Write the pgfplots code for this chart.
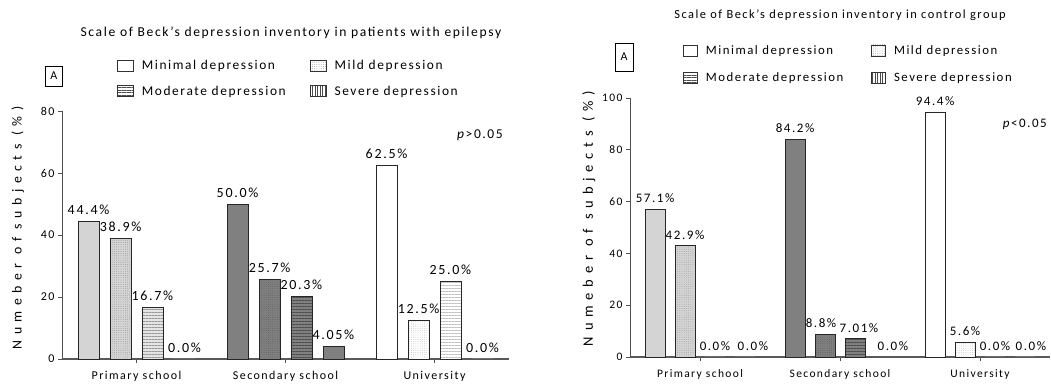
\documentclass[border=0pt]{standalone}
\usepackage{pgfplots}
\pgfplotsset{compat=1.18}
\usetikzlibrary{patterns.meta}
\usepackage{fontspec}
\setmainfont{Carlito}[LetterSpace=12]
\newfontfamily\spaced{Carlito}[LetterSpace=40]
\definecolor{lg}{HTML}{D4D4D4}
\definecolor{dg}{HTML}{808080}
\definecolor{axc}{HTML}{505050}
\pgfplotsset{
  myaxis/.style={
    scale only axis,
    xmin=-0.5, xmax=2.5, ymin=0,
    axis lines=left,
    axis line style={-},
    x axis line style={line width=1.6pt, color=black!65},
    y axis line style={line width=0.9pt, color=axc},
    tick align=outside,
    major tick length=4pt,
    xtick={0,1,2},
    xticklabels={Primary school, Secondary school, University},
    xtick style={color=axc, line width=0.8pt},
    ytick style={color=axc, line width=0.8pt},
    xticklabel style={yshift=-5pt},
    yticklabel style={/pgf/number format/assume math mode=true},
    clip=false,
    legend columns=2,
    legend style={draw=none, fill=none,
      /tikz/every odd column/.append style={column sep=6pt}},
    legend cell align=left,
  },
  bb/.style={ybar, bar shift=0pt, forget plot, draw=black!85, line width=0.8pt,
    nodes near coords, point meta=explicit symbolic,
    nodes near coords style={text=black, yshift=3pt}},
  mildL/.style={fill=lg, postaction={pattern={Dots[distance=2.2pt,radius=0.45pt]}, pattern color=black!40}},
  mildS/.style={fill=dg, postaction={pattern={Dots[distance=2.2pt,radius=0.45pt]}, pattern color=black!65}},
  mildU/.style={fill=white, postaction={pattern={Dots[distance=2.2pt,radius=0.45pt]}, pattern color=black!25}},
  modL/.style={fill=lg!60!white, postaction={pattern={Lines[angle=0,distance=3pt,line width=0.9pt]}, pattern color=black!40}},
  modS/.style={fill=dg, postaction={pattern={Lines[angle=0,distance=3pt,line width=0.9pt]}, pattern color=black!70}},
  modU/.style={fill=white, postaction={pattern={Lines[angle=0,distance=3pt,line width=0.9pt]}, pattern color=black!25}},
  sevL/.style={fill=lg, postaction={pattern={Lines[angle=90,distance=3pt,line width=0.9pt]}, pattern color=black!40}},
  sevS/.style={fill=dg, postaction={pattern={Lines[angle=90,distance=3pt,line width=0.9pt]}, pattern color=black!65}},
  sevU/.style={fill=white, postaction={pattern={Lines[angle=90,distance=3pt,line width=0.9pt]}, pattern color=black!25}},
}
\begin{document}
\begin{tikzpicture}
\useasboundingbox (0,0) rectangle (1051pt,390pt);
% ---------- left chart ----------
\begin{axis}[myaxis,
  at={(62pt,31pt)}, anchor=south west,
  width=447pt, height=248pt,
  ymax=80, ytick={0,20,40,60,80},
  ticklabel style={font=\fontsize{12}{14}\selectfont},
  ylabel={Numeber of subjects (\%)},
  ylabel style={font=\spaced\fontsize{13.8}{15}\selectfont, yshift=10pt, xshift=7pt},
  legend style={at={(axis description cs:0.116,1.222)}, anchor=north west, font=\fontsize{13.4}{15}\selectfont,
    /tikz/every even column/.append style={column sep=22pt}, row sep=11pt},
  legend image code/.code={\draw[#1, draw=black!80, line width=0.7pt] (0pt,-5.5pt) rectangle (16pt,5.5pt);},
  nodes near coords style={font=\fontsize{14}{16}\selectfont},
]
\addlegendimage{fill=white}\addlegendentry{Minimal depression}
\addlegendimage{fill=white, postaction={pattern={Dots[distance=2.2pt,radius=0.45pt]}, pattern color=black!40}}\addlegendentry{Mild depression}
\addlegendimage{fill=white, postaction={pattern={Lines[angle=0,distance=2.5pt,line width=0.8pt]}, pattern color=black!70}}\addlegendentry{Moderate depression}
\addlegendimage{fill=white, postaction={pattern={Lines[angle=90,distance=2.5pt,line width=0.8pt]}, pattern color=black!70}}\addlegendentry{Severe depression}
% Primary school
\addplot[bb, bar width=21pt, fill=lg] coordinates {(-0.322,44.4) [44.4\%]};
\addplot[bb, bar width=21pt, mildL] coordinates {(-0.107,38.9) [38.9\%]};
\addplot[bb, bar width=21pt, modL] coordinates {(0.107,16.7) [16.7\%]};
\addplot[bb, bar width=21pt, sevL, draw=none] coordinates {(0.322,0) [0.0\%]};
% Secondary school
\addplot[bb, bar width=21pt, fill=dg] coordinates {(0.678,50.0) [50.0\%]};
\addplot[bb, bar width=21pt, mildS] coordinates {(0.893,25.7) [25.7\%]};
\addplot[bb, bar width=21pt, modS] coordinates {(1.107,20.3) [20.3\%]};
\addplot[bb, bar width=21pt, fill=dg] coordinates {(1.322,4.05) [4.05\%]};
% University
\addplot[bb, bar width=21pt, fill=white] coordinates {(1.678,62.5) [62.5\%]};
\addplot[bb, bar width=21pt, mildU] coordinates {(1.893,12.5) [12.5\%]};
\addplot[bb, bar width=21pt, modU] coordinates {(2.107,25.0) [25.0\%]};
\addplot[bb, bar width=21pt, sevU, draw=none] coordinates {(2.322,0) [0.0\%]};
\node[font=\fontsize{13.5}{15}\selectfont] at (axis description cs:0.935,0.903) {\textit{p}>0.05};
\node[font=\fontsize{13.6}{16}\selectfont] at (axis description cs:0.512,1.315) {Scale of Beck's depression inventory in patients with epilepsy};
\node[draw=black, line width=0.9pt, font=\fontsize{12}{14}\selectfont, minimum width=17pt, minimum height=20pt, inner sep=1pt] at (axis description cs:-0.018,1.141) {A};
\end{axis}
% ---------- right chart ----------
\begin{axis}[myaxis,
  at={(630pt,33pt)}, anchor=south west,
  width=420pt, height=259pt,
  ymax=100, ytick={0,20,40,60,80,100},
  ticklabel style={font=\fontsize{11.5}{13}\selectfont},
  ylabel={Numeber of subjects (\%)},
  ylabel style={font=\spaced\fontsize{14.5}{16}\selectfont, xshift=9pt},
  legend style={at={(axis description cs:0.119,1.22)}, anchor=north west, font=\fontsize{12.8}{15}\selectfont,
    /tikz/every even column/.append style={column sep=26pt}, row sep=13pt},
  legend image code/.code={\draw[#1, draw=black!80, line width=0.7pt] (0pt,-5.5pt) rectangle (14pt,5.5pt);},
  nodes near coords style={font=\fontsize{13}{15}\selectfont},
]
\addlegendimage{fill=white}\addlegendentry{Minimal depression}
\addlegendimage{fill=white, postaction={pattern={Dots[distance=2.2pt,radius=0.45pt]}, pattern color=black!40}}\addlegendentry{Mild depression}
\addlegendimage{fill=white, postaction={pattern={Lines[angle=0,distance=2.5pt,line width=0.8pt]}, pattern color=black!70}}\addlegendentry{Moderate depression}
\addlegendimage{fill=white, postaction={pattern={Lines[angle=90,distance=2.5pt,line width=0.8pt]}, pattern color=black!70}}\addlegendentry{Severe depression}
% Primary school
\addplot[bb, bar width=20pt, fill=lg] coordinates {(-0.321,57.1) [57.1\%]};
\addplot[bb, bar width=20pt, mildL] coordinates {(-0.107,42.9) [42.9\%]};
\addplot[bb, bar width=20pt, modL, draw=none] coordinates {(0.107,0) [0.0\%]};
\addplot[bb, bar width=20pt, sevL, draw=none, nodes near coords style={xshift=8pt}] coordinates {(0.321,0) [0.0\%]};
% Secondary school
\addplot[bb, bar width=20pt, fill=dg] coordinates {(0.679,84.2) [84.2\%]};
\addplot[bb, bar width=20pt, mildS, nodes near coords style={xshift=-4pt}] coordinates {(0.893,8.8) [8.8\%]};
\addplot[bb, bar width=20pt, modS, nodes near coords style={xshift=4pt}] coordinates {(1.107,7.01) [7.01\%]};
\addplot[bb, bar width=20pt, sevS, draw=none, nodes near coords style={xshift=8pt}] coordinates {(1.321,0) [0.0\%]};
% University
\addplot[bb, bar width=20pt, fill=white] coordinates {(1.679,94.4) [94.4\%]};
\addplot[bb, bar width=20pt, mildU] coordinates {(1.893,5.6) [5.6\%]};
\addplot[bb, bar width=20pt, modU, draw=none] coordinates {(2.107,0) [0.0\%]};
\addplot[bb, bar width=20pt, sevU, draw=none, nodes near coords style={xshift=6pt}] coordinates {(2.321,0) [0.0\%]};
\node[font=\fontsize{13}{15}\selectfont] at (axis description cs:0.94,0.90) {\textit{p}<0.05};
\node[font=\fontsize{12.4}{15}\selectfont] at (axis description cs:0.5,1.32) {Scale of Beck's depression inventory in control group};
\node[draw=black, line width=0.9pt, font=\fontsize{12}{14}\selectfont, minimum width=18pt, minimum height=28pt, inner sep=1pt] at (axis description cs:-0.014,1.158) {A};
\end{axis}
\end{tikzpicture}
\end{document}
